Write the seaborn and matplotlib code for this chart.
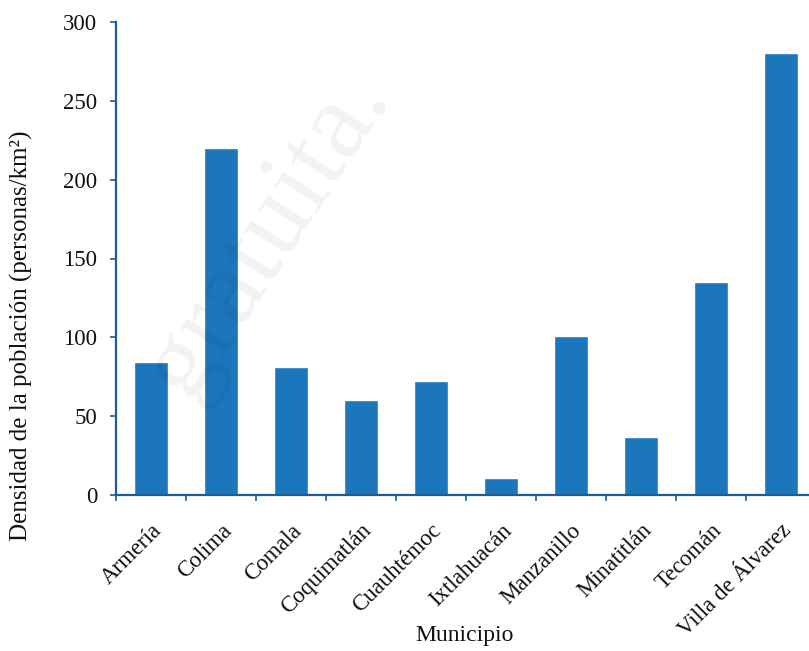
import matplotlib
matplotlib.use("Agg")
import matplotlib.pyplot as plt
import seaborn as sns
import pandas as pd
import numpy as np

municipios = ["Armería", "Colima", "Comala", "Coquimatlán", "Cuauhtémoc",
              "Ixtlahuacán", "Manzanillo", "Minatitlán", "Tecomán", "Villa de Álvarez"]
densidad = [84.5, 220, 81.5, 60, 72.5, 11, 101, 37, 135, 280.5]
yticks = [0, 50, 100, 150, 200, 250, 300]

sns.set_theme(style="white")
plt.rcParams['font.family'] = ['Liberation Serif', 'DejaVu Serif']

W, H = 809, 651
fig = plt.figure(figsize=(W / 100, H / 100), dpi=100)
left, right, top, bottom = 116, 816, 22, 495
ax = fig.add_axes([left / W, 1 - bottom / H, (right - left) / W, (bottom - top) / H])

df = pd.DataFrame({"Municipio": municipios, "Densidad": densidad})
sns.barplot(data=df, x="Municipio", y="Densidad", color="#1c76bb", saturation=1,
            width=0.49, ax=ax)

spine_col = "#1b5d94"
for s in ["top", "right"]:
    ax.spines[s].set_visible(False)
for s in ["left", "bottom"]:
    ax.spines[s].set_color(spine_col)
    ax.spines[s].set_linewidth(1.6)

ax.set_ylim(0, 300)
ax.set_xlim(-0.5, len(municipios) - 0.5)
ax.set_yticks(yticks)
ax.set_yticklabels([str(v) for v in yticks], fontsize=16.5, color="#111111")
ax.tick_params(axis="y", length=4.5, width=1.2, color=spine_col, pad=9, left=True)

ax.set_xticks(range(len(municipios)))
ax.set_xticklabels(municipios, rotation=45, ha="right", rotation_mode="anchor",
                   fontsize=16.5, color="#111111")
ax.tick_params(axis="x", which="major", length=0, pad=18)
ax.set_xticks(np.arange(-0.5, len(municipios), 1.0), minor=True)
ax.tick_params(axis="x", which="minor", length=4, width=1.2, color=spine_col, bottom=True)

ax.set_xlabel("")
ax.set_ylabel("")
fig.text(465 / W, 1 - 636 / H, "Municipio", ha="center", va="center", fontsize=17,
         color="#111111")
fig.text(21 / W, 1 - 336 / H, "Densidad de la población (personas/km²)",
         rotation=90, ha="center", va="center", fontsize=18, color="#111111")

# faint watermark
fig.text(0.33, 0.64, "gratuita.", rotation=57, ha="center", va="center",
         fontsize=80, color="#000000", alpha=0.05)

fig.savefig("out.png", dpi=100)
